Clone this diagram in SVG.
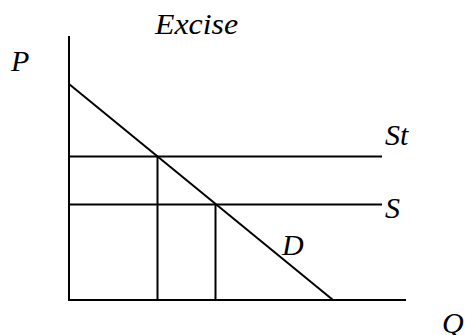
<svg xmlns="http://www.w3.org/2000/svg" width="465" height="335" viewBox="0 0 465 335">
<style>
.ln{stroke:#000;stroke-width:2;fill:none}
.lb{font-family:"Liberation Serif","Times New Roman",serif;font-style:italic;font-size:30px;fill:#000}
</style>
<rect width="465" height="335" fill="#fff"/>
<g id="connectors">
<line class="ln" x1="69" y1="36" x2="69" y2="301"/>
<line class="ln" x1="68" y1="300" x2="406" y2="300"/>
<line class="ln" x1="69" y1="84" x2="333" y2="300"/>
<line class="ln" x1="69" y1="156.5" x2="382" y2="156.5"/>
<line class="ln" x1="69" y1="204.5" x2="382" y2="204.5"/>
<line class="ln" x1="157.5" y1="156.5" x2="157.5" y2="300"/>
<line class="ln" x1="215.5" y1="204.5" x2="215.5" y2="300"/>
</g>
<g id="title"><text class="lb" x="155" y="34" textLength="83" lengthAdjust="spacingAndGlyphs">Excise</text></g>
<g id="P"><text class="lb" x="11" y="71">P</text></g>
<g id="St"><text class="lb" x="385" y="145">St</text></g>
<g id="S"><text class="lb" x="385" y="218">S</text></g>
<g id="D"><text class="lb" x="282" y="255">D</text></g>
<g id="Q"><text class="lb" x="442" y="333">Q</text></g>
</svg>
